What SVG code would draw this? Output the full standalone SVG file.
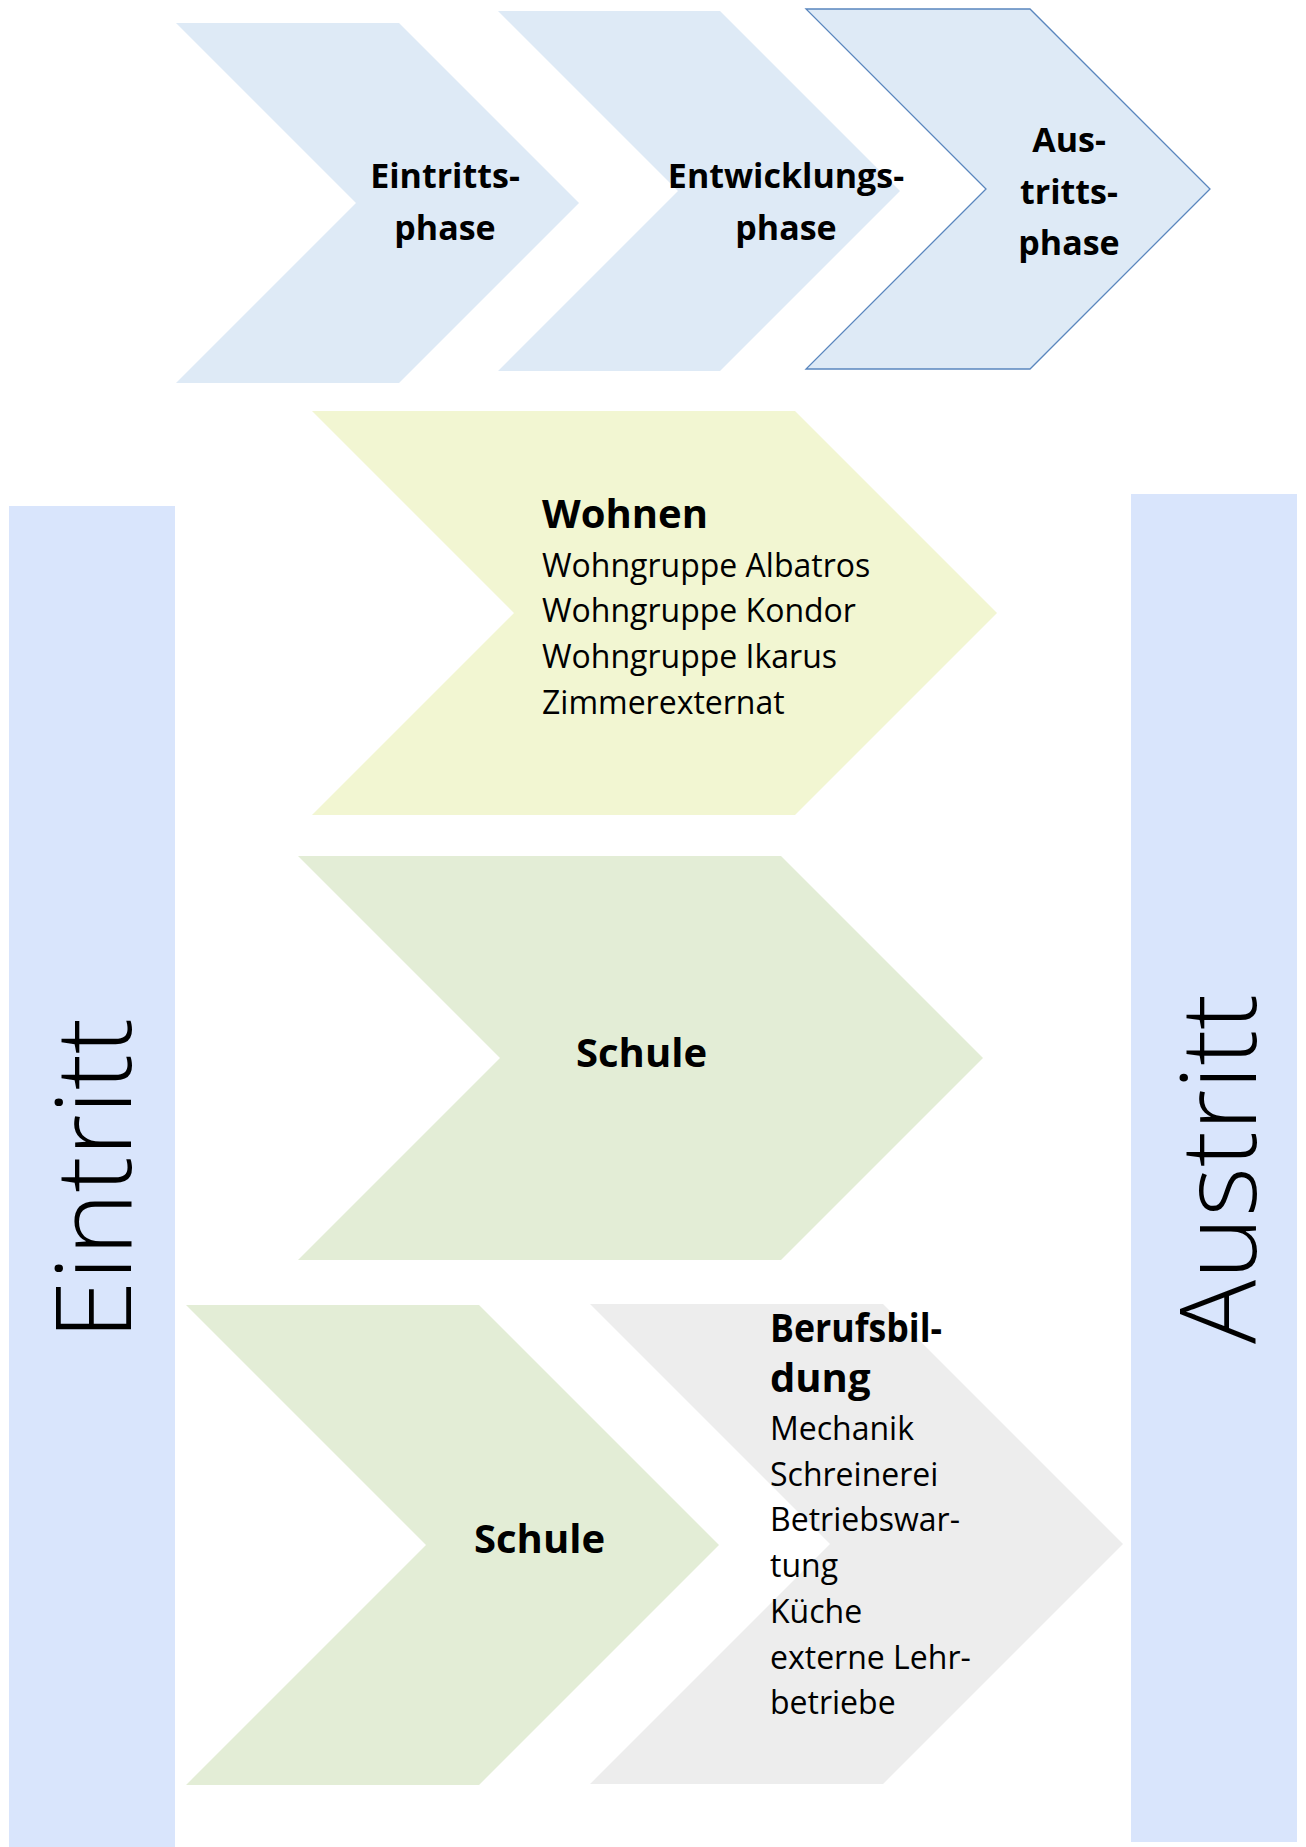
<svg xmlns="http://www.w3.org/2000/svg" width="1306" height="1847" viewBox="0 0 1306 1847">
<style>
.phase{fill:#DEEAF6}
.bar{fill:#D9E5FC}
.wohnen{fill:#F2F6D2}
.schule{fill:#E3EDD6}
.beruf{fill:#EDEDED}
text{font-family:"Open Sans","Noto Sans","Liberation Sans",sans-serif;fill:#000}
.ph{font-size:34px;font-weight:700;text-anchor:middle}
.h{font-size:40px;font-weight:700}
.b{font-size:32px;font-weight:400}
.v{font-size:105px;font-weight:350}
</style>
<rect width="1306" height="1847" fill="#FFFFFF"/>
<g id="bar-eintritt">
<rect class="bar" x="9" y="506" width="166" height="1341"/>
<text class="v" transform="translate(131,1340) rotate(-90)" textLength="322" lengthAdjust="spacingAndGlyphs">Eintritt</text>
</g>
<g id="bar-austritt">
<rect class="bar" x="1131" y="494" width="166" height="1348"/>
<text class="v" transform="translate(1256,1344) rotate(-90)" textLength="350" lengthAdjust="spacingAndGlyphs">Austritt</text>
</g>
<g id="phase-eintritt">
<path class="phase" d="M176,23 L399,23 L579,203 L399,383 L176,383 L356,203 Z"/>
<text class="ph" x="445" y="188">Eintritts-</text>
<text class="ph" x="445" y="240">phase</text>
</g>
<g id="phase-entwicklung">
<path class="phase" d="M498,11 L720,11 L900,191 L720,371 L498,371 L678,191 Z"/>
<text class="ph" x="786" y="188">Entwicklungs-</text>
<text class="ph" x="786" y="240">phase</text>
</g>
<g id="phase-austritt">
<path class="phase" d="M806,9 L1030,9 L1210,189 L1030,369 L806,369 L986,189 Z" stroke="#5A86BE" stroke-width="1.3"/>
<text class="ph" x="1069" y="152">Aus-</text>
<text class="ph" x="1069" y="203.5">tritts-</text>
<text class="ph" x="1069" y="255">phase</text>
</g>
<g id="wohnen">
<path class="wohnen" d="M312,411 L795,411 L997,613 L795,815 L312,815 L514,613 Z"/>
<text class="h" x="542" y="528">Wohnen</text>
<text class="b" x="542" y="576.5">Wohngruppe Albatros</text>
<text class="b" x="542" y="622.2">Wohngruppe Kondor</text>
<text class="b" x="542" y="668">Wohngruppe Ikarus</text>
<text class="b" x="542" y="713.6">Zimmerexternat</text>
</g>
<g id="schule-1">
<path class="schule" d="M298,856 L781,856 L983,1058 L781,1260 L298,1260 L500,1058 Z"/>
<text class="h" x="576" y="1067">Schule</text>
</g>
<g id="schule-2">
<path class="schule" d="M186,1305 L479,1305 L719,1545 L479,1785 L186,1785 L426,1545 Z"/>
<text class="h" x="474" y="1553">Schule</text>
</g>
<g id="berufsbildung">
<path class="beruf" d="M590,1304 L883,1304 L1123,1544 L883,1784 L590,1784 L830,1544 Z"/>
<text class="h" x="770" y="1342" textLength="172" lengthAdjust="spacingAndGlyphs">Berufsbil-</text>
<text class="h" x="770" y="1392">dung</text>
<text class="b" x="770" y="1440">Mechanik</text>
<text class="b" x="770" y="1485.7">Schreinerei</text>
<text class="b" x="770" y="1531.4">Betriebswar-</text>
<text class="b" x="770" y="1577">tung</text>
<text class="b" x="770" y="1622.8">Küche</text>
<text class="b" x="770" y="1668.5">externe Lehr-</text>
<text class="b" x="770" y="1714">betriebe</text>
</g>
<g id="connectors"/>
</svg>
